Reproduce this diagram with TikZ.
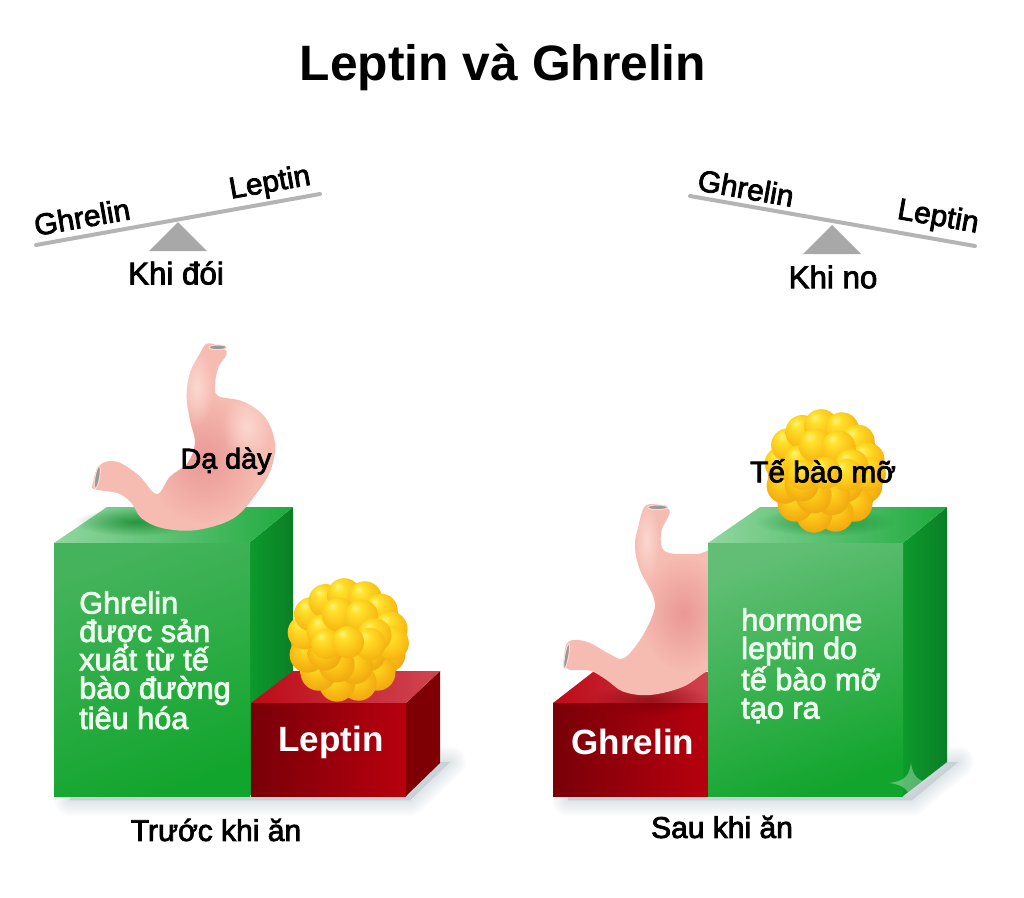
\documentclass[tikz,border=0pt]{standalone}
\usepackage{fontspec}
\setmainfont{Liberation Sans}
\newfontfamily\medfont[FakeBold=2.6]{Liberation Sans}
\usetikzlibrary{calc,fadings}

\tikzfading[name=softglow, inner color=transparent!0, outer color=transparent!100]

\definecolor{greenA}{HTML}{45B35C}
\definecolor{greenB}{HTML}{12A52D}
\definecolor{greenTopA}{HTML}{92D6A0}
\definecolor{greenTopB}{HTML}{1EAA3E}
\definecolor{greenSideA}{HTML}{0D9A2C}
\definecolor{greenSideB}{HTML}{0A7F26}
\definecolor{redA}{HTML}{780008}
\definecolor{redB}{HTML}{B8000E}
\definecolor{redTopA}{HTML}{BE0A18}
\definecolor{redTopB}{HTML}{D04552}
\definecolor{redSide}{HTML}{7E0004}
\definecolor{pinkBase}{HTML}{F6BBB1}
\definecolor{pinkDeep}{HTML}{EA9896}
\definecolor{pinkEdge}{HTML}{FBD8D0}
\definecolor{scaleGrey}{HTML}{B4B4B4}
\definecolor{pivotGrey}{HTML}{A8A8A8}
\definecolor{shadowTone}{HTML}{7F9BA6}
\definecolor{fatBase}{HTML}{E8960C}
\definecolor{fatLight}{HTML}{FFF27A}
\definecolor{fatBright}{HTML}{FFE02A}
\definecolor{fatMid}{HTML}{F9BC14}
\definecolor{fatDeep}{HTML}{E6920C}

% Fat-cell lobes: a bright highlight on the upper ones, deeper orange below
\pgfdeclareradialshading{lobeupper}{\pgfpoint{-10bp}{14bp}}{
  color(0bp)=(fatLight); color(8bp)=(fatBright);
  color(26bp)=(fatMid); color(44bp)=(fatDeep); color(50bp)=(fatDeep)}
\pgfdeclareradialshading{lobelower}{\pgfpoint{-6bp}{10bp}}{
  color(0bp)=(fatBright); color(18bp)=(fatMid);
  color(42bp)=(fatDeep); color(50bp)=(fatDeep)}

\tikzset{
  title/.style={font=\fontsize{37.3}{40}\bfseries\selectfont, text=black},
  label/.style={font=\medfont\fontsize{22.5}{24}\selectfont, text=black},
  stateword/.style={font=\medfont\fontsize{23.5}{26}\selectfont, text=black},
  organtag/.style={font=\medfont\fontsize{21.5}{24}\selectfont, text=black},
  beamlabel/.style={font=\medfont\fontsize{22.5}{24}\selectfont, text=black},
  beam/.style={draw=scaleGrey, line width=3pt, line cap=round},
  pivot/.style={fill=pivotGrey},
  blocktext/.style={font=\medfont\fontsize{23}{21.3}\selectfont, text=white!93!green, align=left, anchor=north west, inner sep=0pt},
  redtext/.style={font=\fontsize{26.3}{28}\bfseries\selectfont, text=white},
  lumen/.style={fill=black!40, draw=pinkEdge, line width=.8pt}
}

% Soft ground shadow built from stacked translucent outlines
\newcommand\softshadow[1]{%
  \foreach \w in {3,7,...,31}
    \draw[shadowTone, fill=shadowTone, line join=round, line width=\w*0.75pt, opacity=.03] #1;
}

% One fat cell centred at #1, radius about 60 px
\newcommand\fatcell[1]{%
  \begin{scope}[shift={#1}]
    \fill[fatBase] (0,0) circle (57);
    \foreach \a/\d/\r in {20/42/18,48/44/18,76/44/18,104/45/18,132/44/18,160/43/18,
                          35/25/17,75/27/18,115/27/18,150/27/17}
      \shade[shading=lobelower] (\a:\d) circle (\r);
    \foreach \a/\d/\r in {190/44/17,215/45/17,240/45/17,265/45/17,292/45/17,318/44/17,345/44/17,4/44/17}
      \shade[shading=lobeupper] (\a:\d) circle (\r);
    \foreach \a/\d/\r in {200/26/17,250/27/17,300/27/17,350/27/17,10/22/16,170/22/15}
      \shade[shading=lobeupper] (\a:\d) circle (\r);
    \shade[shading=lobeupper] (0,2) circle (16);
  \end{scope}
}

% Stomach outlines, in quarter-point steps from their own origin
\newcommand\stomachA{plot[smooth cycle, tension=.6] coordinates {
  (590,65) (565,112) (555,165) (565,198) (640,215) (705,262) (735,340) (722,420)
  (680,490) (610,565) (500,600) (400,595) (335,565) (305,520) (265,490) (195,478)
  (188,462) (210,405) (260,395) (325,435) (380,492) (420,440) (472,400) (495,340)
  (480,270) (470,200) (480,130) (510,70) (535,40)}}
\newcommand\stomachB{plot[smooth cycle, tension=.6] coordinates {
  (388,330) (365,390) (365,440) (392,460) (470,462) (560,470) (570,800) (505,812)
  (430,860) (330,885) (250,875) (200,840) (150,812) (85,808) (73,775) (85,725)
  (140,725) (205,760) (250,775) (300,720) (340,640) (340,590) (300,510) (285,440)
  (295,380) (320,315)}}

\begin{document}
\begin{tikzpicture}[x=0.75pt,y=-0.75pt]
  \useasboundingbox (0,0) rectangle (1024,897);
  \fill[white] (0,0) rectangle (1024,897);

  \node[title] (heading) at (503,67) {Leptin và Ghrelin};

  % Balance before eating
  \coordinate (beamLa) at (36,245);
  \coordinate (beamLb) at (320,194);
  \draw[beam] (beamLa) -- (beamLb);
  \fill[pivot] (178,222) -- (207,251) -- (149,251) -- cycle;
  \node[beamlabel, rotate=10] (ghrelinL) at (82,217) {Ghrelin};
  \node[beamlabel, rotate=10] (leptinL) at (270,184) {Leptin};
  \node[stateword] (hungry) at (176,273) {Khi đói};

  % Balance after eating
  \coordinate (beamRa) at (690,196);
  \coordinate (beamRb) at (975,246);
  \draw[beam] (beamRa) -- (beamRb);
  \fill[pivot] (832,225) -- (861,254) -- (803,254) -- cycle;
  \node[beamlabel, rotate=-10] (ghrelinR) at (746,188) {Ghrelin};
  \node[beamlabel, rotate=-10] (leptinR) at (938,218) {Leptin};
  \node[stateword] (full) at (833,277) {Khi no};

  % Ground shadows
  \softshadow{(70,790) -- (400,790) -- (435,762) -- (450,762) -- (410,800) -- (70,800) -- cycle}
  \softshadow{(568,790) -- (900,790) -- (940,762) -- (958,762) -- (912,800) -- (568,800) -- cycle}

  % Left column: tall green block
  \shade[left color=greenSideA, right color=greenSideB] (249,543) -- (293,507) -- (293,760) -- (249,796) -- cycle;
  \shade[left color=greenTopA, right color=greenTopB] (54,543) -- (107,507) -- (293,507) -- (249,543) -- cycle;
  \shade[top color=greenA, bottom color=greenB, shading angle=20] (54,543) rectangle (250,796);

  % Left stomach
  \fill[greenSideB, path fading=softglow, opacity=.7] (135,522) ellipse (60 and 14);
  \begin{scope}[shift={(30,330)},x=0.25pt,y=-0.25pt]
    \begin{scope}
      \clip \stomachA;
      \fill[pinkBase] (0,0) rectangle (900,700);
      \fill[pinkDeep, path fading=softglow] (520,390) ellipse (170 and 190);
      \fill[pinkEdge, path fading=softglow] (650,290) ellipse (75 and 110);
      \fill[pinkEdge, path fading=softglow] (500,170) ellipse (50 and 120);
    \end{scope}
    \fill[lumen] (563,52) ellipse (26 and 7);
    \fill[lumen, rotate around={80:(202,442)}] (202,442) ellipse (34 and 7);
  \end{scope}
  \node[organtag] (stomachtag) at (226,461) {Dạ dày};

  % Left column: low red block with fat cell
  \fill[redSide] (406,703) -- (440,671) -- (440,763) -- (406,796) -- cycle;
  \shade[left color=redTopA, right color=redTopB] (251,703) -- (293,671) -- (440,671) -- (406,703) -- cycle;
  \shade[left color=redA, right color=redB] (251,703) rectangle (406,796);
  \fatcell{(348,640)}

  \node[blocktext] (ghrelintext) at (79,591) {Ghrelin\\được sản\\xuất từ tế\\bào đường\\tiêu hóa};
  \node[redtext] (leptinblock) at (331,742) {Leptin};
  \node[label] (before) at (216,830) {Trước khi ăn};

  % Right column: low red block and stomach behind the green block
  \shade[left color=redTopA, right color=redTopB] (553,703) -- (593,672) -- (720,672) -- (710,703) -- cycle;
  \shade[left color=redA, right color=redB] (553,703) rectangle (709,796);
  \fill[redA, path fading=softglow, opacity=.6] (650,700) ellipse (60 and 16);
  \begin{scope}[shift={(540,400)},x=0.25pt,y=-0.25pt]
    \begin{scope}
      \clip \stomachB;
      \fill[pinkBase] (0,0) rectangle (700,950);
      \fill[pinkDeep, path fading=softglow] (430,640) ellipse (130 and 170);
      \fill[pinkEdge, path fading=softglow] (320,420) ellipse (40 and 120);
    \end{scope}
    \fill[lumen] (353,322) ellipse (30 and 7);
    \fill[lumen, rotate around={80:(80,768)}] (80,768) ellipse (38 and 6);
  \end{scope}

  % Right column: tall green block
  \shade[left color=greenSideA, right color=greenSideB] (903,543) -- (947,507) -- (947,762) -- (903,796) -- cycle;
  \shade[left color=greenTopA, right color=greenTopB] (708,543) -- (760,507) -- (947,507) -- (903,543) -- cycle;
  \shade[top color=greenA!85!white, bottom color=greenB, shading angle=20] (708,543) rectangle (903,796);
  \fill[greenSideB, path fading=softglow, opacity=.6] (825,522) ellipse (70 and 14);
  \fatcell{(825,471)}
  \node[organtag, font=\medfont\fontsize{22.4}{24}\selectfont] (fattag) at (823,471) {Tế bào mỡ};

  % Four-point sparkle across the block's lower corner
  \begin{scope}
    \clip (708,543) -- (903,543) -- (947,507) -- (947,762) -- (903,796) -- (708,796) -- cycle;
    \fill[white, opacity=.32] (911,763) .. controls (913,776) and (917,781) .. (931,783)
      .. controls (917,785) and (913,790) .. (911,803)
      .. controls (909,790) and (905,785) .. (889,783)
      .. controls (905,781) and (909,776) .. (911,763) -- cycle;
  \end{scope}

  \node[blocktext] (leptintext) at (741,608) {hormone\\leptin do\\tế bào mỡ\\tạo ra};
  \node[redtext] (ghrelinblock) at (633,742) {Ghrelin};
  \node[label] (after) at (722,827) {Sau khi ăn};
\end{tikzpicture}
\end{document}
